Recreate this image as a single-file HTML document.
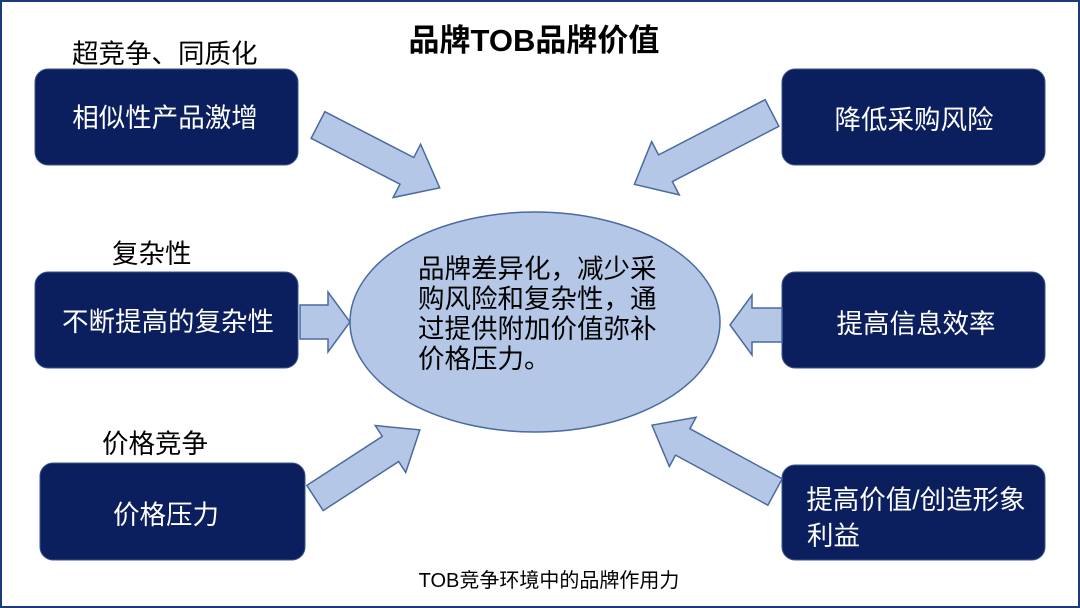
<!DOCTYPE html>
<html><head><meta charset="utf-8"><style>
body{margin:0;background:#fff}
svg{display:block}
text{font-family:"Liberation Sans","Noto Sans CJK SC",sans-serif}
.serif{font-family:"Liberation Serif","Noto Serif CJK SC",serif}
</style></head><body>
<svg width="1080" height="608" viewBox="0 0 1080 608">
<rect x="1" y="1" width="1078" height="606" fill="#fff" stroke="#1f3a7a" stroke-width="2"/>
<text x="534" y="51" font-size="31" font-weight="bold" text-anchor="middle" fill="#000">品牌TOB品牌价值</text>
<g fill="#0b1f5e" stroke="#3a5590" stroke-width="1">
<rect x="35" y="69" width="263" height="96" rx="13"/>
<rect x="35" y="272" width="263" height="96" rx="13"/>
<rect x="40" y="463" width="265" height="97" rx="13"/>
<rect x="782" y="69" width="263" height="96" rx="13"/>
<rect x="782" y="272" width="263" height="96" rx="13"/>
<rect x="782" y="465" width="263" height="95" rx="13"/>
</g>
<g font-size="26.5" fill="#000" class="serif">
<text x="72" y="63">超竞争、同质化</text>
<text x="112" y="263">复杂性</text>
<text x="102" y="453">价格竞争</text>
</g>
<g font-size="26.5" fill="#fff" text-anchor="middle">
<text x="165" y="127">相似性产品激增</text>
<text x="168" y="331">不断提高的复杂性</text>
<text x="166" y="524">价格压力</text>
<text x="914" y="129">降低采购风险</text>
<text x="916" y="333">提高信息效率</text>
<text x="916" y="509">提高价值/创造形象</text>
<text x="807" y="545" text-anchor="start">利益</text>
</g>
<ellipse cx="535" cy="322" rx="185" ry="110" fill="#b4c7e7" stroke="#4a6aa0" stroke-width="1.5"/>
<g font-size="26.5" fill="#000">
<text x="418" y="278">品牌差异化，减少采</text>
<text x="418" y="308">购风险和复杂性，通</text>
<text x="418" y="338">过提供附加价值弥补</text>
<text x="418" y="368">价格压力。</text>
</g>
<g fill="#b4c7e7" stroke="#4a6aa0" stroke-width="1.5">
<polygon transform="translate(318,125) rotate(27.3)" points="0,-15 100,-15 100,-30 137,0 100,30 100,15 0,15"/>
<polygon transform="translate(772,113) rotate(152.6)" points="0,-15 120,-15 120,-30 155,0 120,30 120,15 0,15"/>
<polygon transform="translate(300,322)" points="0,-17 28,-17 28,-30 50,0 28,30 28,17 0,17"/>
<polygon transform="translate(782,325) rotate(180)" points="0,-17 30,-17 30,-30 52,0 30,30 30,17 0,17"/>
<polygon transform="translate(315,498) rotate(-33)" points="0,-15 90,-15 90,-28 125,0 90,28 90,15 0,15"/>
<polygon transform="translate(775,492) rotate(-151.5)" points="0,-15 105,-15 105,-28 140,0 105,28 105,15 0,15"/>
</g>
<text x="549" y="587" font-size="20" text-anchor="middle" fill="#000">TOB竞争环境中的品牌作用力</text>
</svg>
</body></html>
